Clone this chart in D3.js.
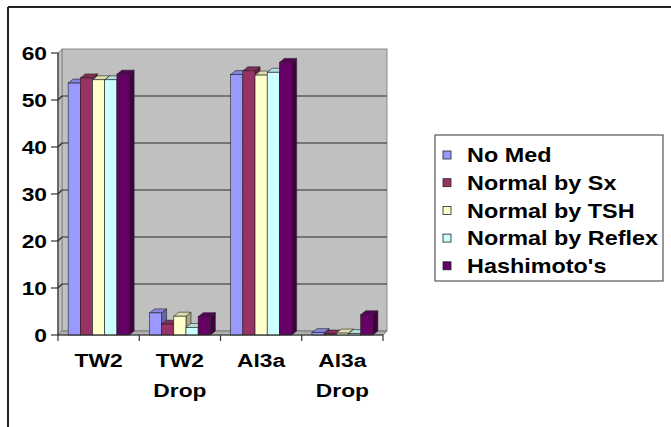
<!DOCTYPE html>
<html>
<head>
<meta charset="utf-8">
<script src="https://cdn.jsdelivr.net/npm/d3@7"></script>
<style>
  html, body { margin: 0; padding: 0; background: #fff; }
  svg text { font-family: "Liberation Sans", Arial, sans-serif; font-weight: bold; fill: #000; }
</style>
</head>
<body>
<svg id="chart" width="671" height="427"></svg>
<script>
// ---- data ----
const categories = ["TW2", "TW2 Drop", "Al3a", "Al3a Drop"];
const seriesNames = ["No Med", "Normal by Sx", "Normal by TSH", "Normal by Reflex", "Hashimoto's"];
const noMed        = [53.6, 4.7, 55.4, 0.5];
const normalBySx   = [54.7, 2.3, 56.2, 0.2];
const normalByTSH  = [54.3, 4.0, 55.3, 0.4];
const normalByReflex = [54.3, 1.6, 55.9, 0.3];
const hashimotos   = [55.5, 3.9, 58.0, 4.3];
const yTicks = [0, 10, 20, 30, 40, 50, 60];
const seriesColors = ["#9999FF", "#993366", "#FFFFCC", "#CCFFFF", "#660066"];

const seriesValues = [noMed, normalBySx, normalByTSH, normalByReflex, hashimotos];

// ---- layout ----
const svg = d3.select("#chart");
const x0 = 58, x1 = 383, yBase = 335, yTop = 53;
const wdx = 4, wdy = 4;   // wall depth offset
const bdx = 5, bdy = 4;   // bar depth offset

const y = d3.scaleLinear().domain([0, 60]).range([yBase, yTop]);
const xCat = d3.scaleBand().domain(categories).range([x0, x1]).paddingInner(0.25).paddingOuter(0.125);
const xSer = d3.scaleBand().domain(seriesNames).range([0, xCat.bandwidth()]);

// outer frame (top and left only)
svg.append("line").attr("x1", 8).attr("y1", 7).attr("x2", 671).attr("y2", 7)
  .attr("stroke", "#222").attr("stroke-width", 2);
svg.append("line").attr("x1", 8).attr("y1", 7).attr("x2", 8).attr("y2", 427)
  .attr("stroke", "#222").attr("stroke-width", 2);

const wallFill = "#C0C0C0", wallStroke = "#8a8a8a";
// back wall
svg.append("rect").attr("x", x0 + wdx).attr("y", yTop - wdy)
  .attr("width", x1 - x0).attr("height", yBase - yTop)
  .attr("fill", wallFill).attr("stroke", wallStroke).attr("stroke-width", 1);
// side wall
svg.append("polygon")
  .attr("points", [[x0, yBase], [x0 + wdx, yBase - wdy], [x0 + wdx, yTop - wdy], [x0, yTop]].map(p => p.join(",")).join(" "))
  .attr("fill", wallFill).attr("stroke", wallStroke).attr("stroke-width", 1);
// floor
svg.append("polygon")
  .attr("points", [[x0, yBase], [x1, yBase], [x1 + wdx, yBase - wdy], [x0 + wdx, yBase - wdy]].map(p => p.join(",")).join(" "))
  .attr("fill", "#b0b0b0").attr("stroke", "#777").attr("stroke-width", 1);

// gridlines
yTicks.filter(v => v > 0 && v < 60).forEach(v => {
  const yy = y(v);
  svg.append("line").attr("x1", x0 + wdx).attr("x2", x1 + wdx).attr("y1", yy - wdy).attr("y2", yy - wdy)
    .attr("stroke", "#2a2a2a").attr("stroke-width", 1.2);
  svg.append("line").attr("x1", x0).attr("x2", x0 + wdx).attr("y1", yy).attr("y2", yy - wdy)
    .attr("stroke", "#2a2a2a").attr("stroke-width", 1.2);
});

// bars
const barsG = svg.append("g");
categories.forEach((cat, ci) => {
  seriesNames.forEach((s, si) => {
    const v = seriesValues[si][ci];
    const bx = xCat(cat) + xSer(s);
    const bw = xSer.bandwidth();
    const yv = y(v);
    const c = d3.color(seriesColors[si]);
    const g = barsG.append("g");
    // side
    g.append("polygon")
      .attr("points", [[bx + bw, yv], [bx + bw + bdx, yv - bdy], [bx + bw + bdx, yBase - bdy], [bx + bw, yBase]].map(p => p.join(",")).join(" "))
      .attr("fill", c.darker(1.2)).attr("stroke", "#222").attr("stroke-width", 0.6);
    // top
    g.append("polygon")
      .attr("points", [[bx, yv], [bx + bdx, yv - bdy], [bx + bw + bdx, yv - bdy], [bx + bw, yv]].map(p => p.join(",")).join(" "))
      .attr("fill", c.darker(0.4)).attr("stroke", "#222").attr("stroke-width", 0.6);
    // front
    g.append("rect").attr("x", bx).attr("y", yv).attr("width", bw).attr("height", yBase - yv)
      .attr("fill", c).attr("stroke", "#222").attr("stroke-width", 0.6);
  });
});

// axes
svg.append("line").attr("x1", x0).attr("x2", x0).attr("y1", yTop).attr("y2", yBase)
  .attr("stroke", "#333").attr("stroke-width", 1.2);
svg.append("line").attr("x1", x0).attr("x2", x1).attr("y1", yBase).attr("y2", yBase)
  .attr("stroke", "#333").attr("stroke-width", 1.2);

yTicks.forEach(v => {
  svg.append("line").attr("x1", x0 - 7).attr("x2", x0).attr("y1", y(v)).attr("y2", y(v))
    .attr("stroke", "#333").attr("stroke-width", 1.2);
  svg.append("text")
    .attr("transform", `translate(47,${y(v)}) scale(1.2,1)`)
    .attr("text-anchor", "end").attr("dy", "0.36em")
    .style("font-size", "19px").text(v);
});

const boundaries = categories.map(c => xCat(c) - xCat.step() * xCat.paddingInner() / 2).concat([x1]);
boundaries.forEach(bx => {
  svg.append("line").attr("x1", bx).attr("x2", bx).attr("y1", yBase).attr("y2", yBase + 6)
    .attr("stroke", "#333").attr("stroke-width", 1.2);
});

categories.forEach(cat => {
  const cx = xCat(cat) + xCat.bandwidth() / 2;
  const words = cat.split(" ");
  words.forEach((w, i) => {
    svg.append("text")
      .attr("transform", `translate(${cx},${367 + i * 30}) scale(1.2,1)`)
      .attr("text-anchor", "middle")
      .style("font-size", "19px").text(w);
  });
});

// legend
const lg = svg.append("g");
lg.append("rect").attr("x", 435).attr("y", 135).attr("width", 228).attr("height", 146)
  .attr("fill", "#fff").attr("stroke", "#555").attr("stroke-width", 1.2);
seriesNames.forEach((s, i) => {
  const cy = 155 + i * 27.7;
  lg.append("rect").attr("x", 443).attr("y", cy - 4).attr("width", 8).attr("height", 8)
    .attr("fill", seriesColors[i]).attr("stroke", "#222").attr("stroke-width", 0.8);
  lg.append("text")
    .attr("transform", `translate(467,${cy}) scale(1.17,1)`)
    .attr("dy", "0.36em")
    .style("font-size", "20px").text(s);
});
</script>
</body>
</html>
